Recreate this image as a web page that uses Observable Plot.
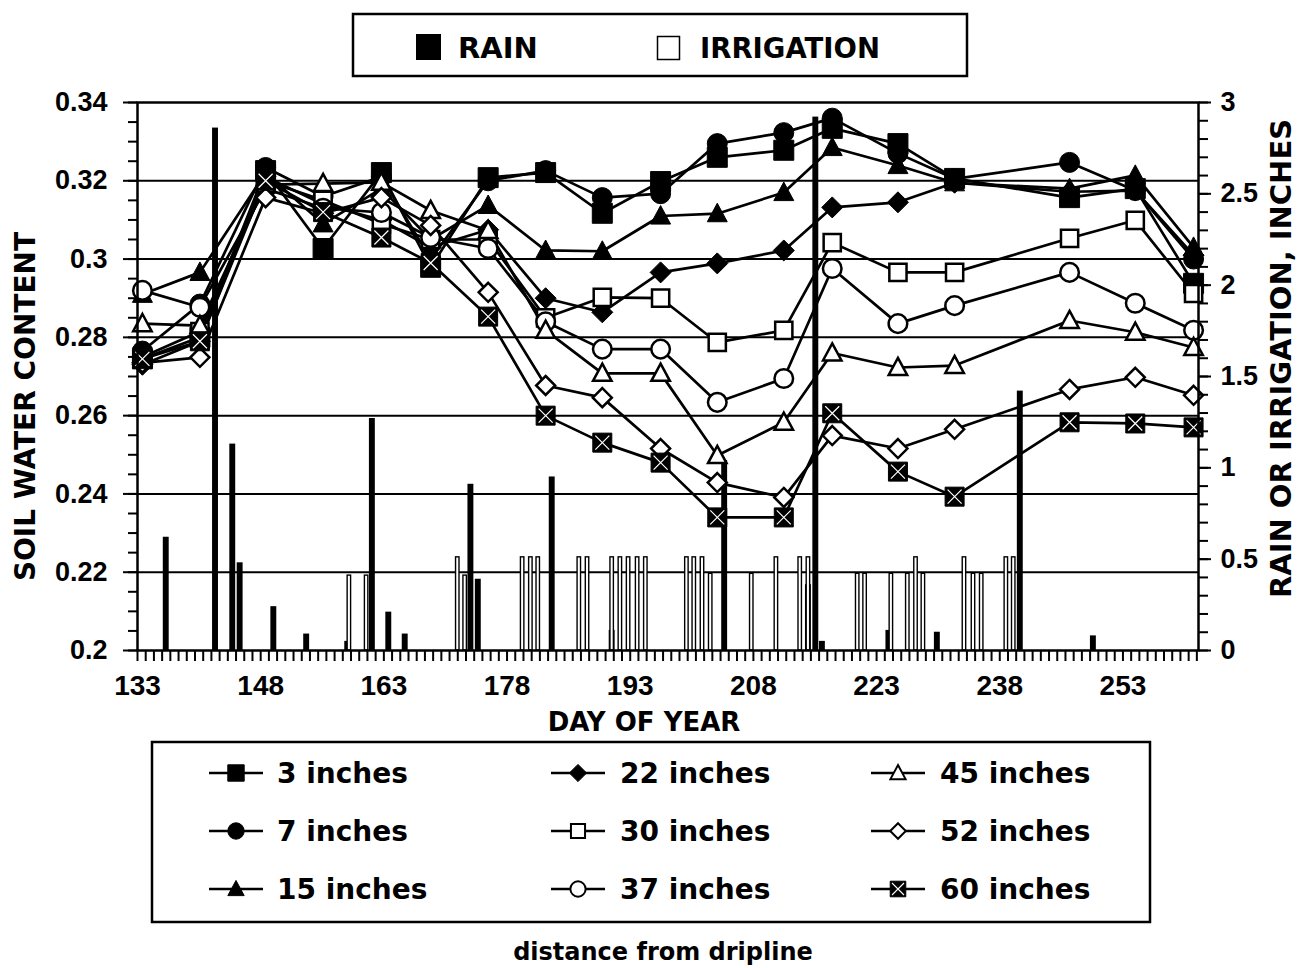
<!DOCTYPE html>
<html>
<head>
<meta charset="utf-8">
<script src="https://cdn.jsdelivr.net/npm/d3@7"></script>
<script src="https://cdn.jsdelivr.net/npm/@observablehq/plot@0.6"></script>
<style>
  html, body { margin: 0; padding: 0; background: #fff; }
  #wrap { position: relative; width: 1298px; height: 968px; background: #fff; }
  #wrap > * { position: absolute; left: 0; }
  #topLegend { top: 0; }
  #chart { top: 90px; }
  #bottomLegend { top: 740px; }
</style>
</head>
<body>
<div id="wrap">
  <div id="topLegend"></div>
  <div id="chart"></div>
  <div id="bottomLegend"></div>
</div>
<script>
// ---------------- DATA ----------------
// Measurement days (day of year, as positioned on the axis)
const days = [133.6, 140.6, 148.6, 155.6, 162.7, 168.7, 175.7, 182.7, 189.6, 196.7, 203.6, 211.7, 217.6, 225.6, 232.5, 246.5, 254.5, 261.6];

const seriesNames = ["3 inches", "7 inches", "15 inches", "22 inches", "30 inches", "37 inches", "45 inches", "52 inches", "60 inches"];

// Soil water content per depth (distance from dripline)
const in3  = [0.2745, 0.280, 0.3226, 0.3027, 0.3221, 0.2979, 0.3208, 0.3221, 0.3117, 0.3198, 0.3260, 0.3278, 0.3334, 0.3295, 0.3206, 0.3157, 0.3180, 0.2938];
const in7  = [0.2765, 0.2885, 0.3234, 0.3160, 0.3210, 0.3000, 0.3200, 0.3226, 0.3157, 0.3167, 0.3295, 0.3323, 0.3360, 0.3270, 0.3205, 0.3247, 0.3175, 0.3000];
const in15 = [0.2910, 0.2966, 0.3220, 0.3090, 0.3180, 0.3050, 0.3137, 0.3022, 0.3020, 0.3110, 0.3116, 0.3170, 0.3285, 0.3239, 0.3195, 0.3180, 0.3214, 0.3030];
const in22 = [0.2730, 0.2790, 0.3210, 0.3140, 0.3100, 0.3030, 0.3075, 0.2900, 0.2864, 0.2966, 0.2989, 0.3022, 0.3132, 0.3145, 0.3195, 0.3172, 0.3175, 0.3010];
const in30 = [0.2750, 0.2815, 0.3200, 0.3150, 0.3090, 0.3050, 0.3050, 0.2850, 0.2902, 0.2900, 0.2787, 0.2818, 0.3042, 0.2966, 0.2966, 0.3053, 0.3099, 0.2912];
const in37 = [0.2920, 0.2877, 0.3180, 0.3130, 0.3119, 0.3055, 0.3027, 0.2840, 0.2770, 0.2770, 0.2634, 0.2695, 0.2976, 0.2835, 0.2881, 0.2966, 0.2887, 0.2818];
const in45 = [0.2835, 0.2830, 0.3190, 0.3193, 0.3196, 0.3124, 0.3073, 0.2818, 0.2708, 0.2708, 0.2498, 0.2583, 0.2760, 0.2723, 0.2728, 0.2843, 0.2813, 0.2774];
const in52 = [0.2735, 0.2749, 0.3157, 0.3117, 0.3157, 0.3086, 0.2915, 0.2677, 0.2646, 0.2516, 0.2429, 0.2391, 0.2549, 0.2516, 0.2565, 0.2667, 0.2698, 0.2652];
const in60 = [0.2745, 0.2790, 0.3200, 0.3120, 0.3055, 0.2990, 0.2853, 0.2600, 0.2531, 0.2480, 0.2340, 0.2340, 0.2606, 0.2457, 0.2393, 0.2583, 0.2580, 0.2570];

// Rain events (day, inches)
const rainDays   = [136.5, 142.5, 144.6, 145.5, 149.6, 153.6, 158.6, 161.6, 163.6, 165.6, 173.6, 174.5, 183.5, 190.8, 204.5, 214.7, 215.6, 216.4, 224.5, 230.4, 240.5, 249.4];
const rainInches = [0.62, 2.86, 1.13, 0.48, 0.24, 0.09, 0.05, 1.27, 0.21, 0.09, 0.91, 0.39, 0.95, 0.11, 1.04, 0.36, 2.92, 0.05, 0.11, 0.10, 1.42, 0.08];

// Irrigation events (day, inches)
const irrDays   = [158.8, 160.9, 172.0, 172.9, 179.9, 180.9, 181.8, 186.8, 187.8, 190.8, 191.8, 192.8, 193.9, 194.9, 199.9, 200.8, 201.8, 202.8, 207.8, 210.8, 213.7, 214.7, 220.7, 221.6, 224.8, 226.8, 227.8, 228.7, 233.7, 234.8, 235.8, 238.8, 239.7];
const irrInches = [0.41, 0.41, 0.51, 0.41, 0.51, 0.51, 0.51, 0.51, 0.51, 0.51, 0.51, 0.51, 0.51, 0.51, 0.51, 0.51, 0.51, 0.42, 0.42, 0.51, 0.51, 0.51, 0.42, 0.42, 0.42, 0.42, 0.51, 0.42, 0.51, 0.42, 0.42, 0.51, 0.51];

// Axis ticks
const xLabelDays = [133, 148, 163, 178, 193, 208, 223, 238, 253];
const leftTicks  = [0.2, 0.22, 0.24, 0.26, 0.28, 0.30, 0.32, 0.34];
const gridLines  = [0.22, 0.24, 0.26, 0.28, 0.30, 0.32];
const rightTicks = [0, 0.5, 1, 1.5, 2, 2.5, 3];

// ---------------- BUILD ----------------
const seriesValues = [in3, in7, in15, in22, in30, in37, in45, in52, in60];
const long = [];
seriesNames.forEach((name, i) => days.forEach((d, j) => long.push({series: name, day: d, v: seriesValues[i][j]})));
const bySeries = name => long.filter(r => r.series === name);

const rain = rainDays.map((d, i) => ({day: d, v: rainInches[i]}));
const irr  = irrDays.map((d, i) => ({day: d, v: irrInches[i]}));

// secondary axis: inches -> soil-water units
const Y0 = 0.2, Y1 = 0.34, INMAX = 3;
const k = (Y1 - Y0) / INMAX;
const toY = v => Y0 + v * k;

// custom symbols
const mkSym = fn => ({draw(ctx, size) { fn(ctx, Math.sqrt(size / Math.PI)); }});
const SQ = mkSym((c, r) => { c.moveTo(-r, -r); c.lineTo(r, -r); c.lineTo(r, r); c.lineTo(-r, r); c.closePath(); });
const CI = mkSym((c, r) => { c.moveTo(r, 0); c.arc(0, 0, r, 0, 2 * Math.PI); c.closePath(); });
const TR = mkSym((c, r) => { c.moveTo(0, -r * 1.1); c.lineTo(r * 1.05, r * 0.85); c.lineTo(-r * 1.05, r * 0.85); c.closePath(); });
const DI = mkSym((c, r) => { c.moveTo(0, -r); c.lineTo(r, 0); c.lineTo(0, r); c.lineTo(-r, 0); c.closePath(); });
const XX = mkSym((c, r) => { c.moveTo(-r, -r); c.lineTo(r, r); c.moveTo(r, -r); c.lineTo(-r, r); });

const style = {
  "3 inches":  {sym: SQ, r: 10,  fill: "black"},
  "7 inches":  {sym: CI, r: 10,  fill: "black"},
  "15 inches": {sym: TR, r: 9.5, fill: "black"},
  "22 inches": {sym: DI, r: 10.5, fill: "black"},
  "30 inches": {sym: SQ, r: 8.6, fill: "white"},
  "37 inches": {sym: CI, r: 9.3, fill: "white"},
  "45 inches": {sym: TR, r: 8.8, fill: "white"},
  "52 inches": {sym: DI, r: 9.5, fill: "white"},
  "60 inches": {sym: SQ, r: 9.5, fill: "black", cross: true}
};

const drawOrder = ["3 inches", "7 inches", "15 inches", "22 inches", "30 inches", "37 inches", "45 inches", "52 inches", "60 inches"];
const dotMarks = [];
for (const name of drawOrder) {
  const s = style[name];
  dotMarks.push(Plot.dot(bySeries(name), {
    x: "day", y: "v", symbol: s.sym, r: s.r, fill: s.fill,
    stroke: "black", strokeWidth: s.fill === "white" ? 2.5 : 1
  }));
  if (s.cross) {
    dotMarks.push(Plot.dot(bySeries(name), {x: "day", y: "v", symbol: XX, r: 7, stroke: "white", strokeWidth: 1.2, fill: "none"}));
  }
}

const tickFont = {fontFamily: "Liberation Sans, Arial, sans-serif", fontWeight: "bold"};
const titleFont = {fontFamily: "DejaVu Sans, sans-serif", fontWeight: "bold", fill: "black"};

const chart = Plot.plot({
  width: 1298,
  height: 650,
  marginTop: 12,
  marginBottom: 90,
  marginLeft: 137,
  marginRight: 100,
  x: {domain: [133, 262.2], axis: null},
  y: {domain: [Y0, Y1], axis: null},
  style: {background: "white", color: "black", overflow: "visible"},
  marks: [
    Plot.ruleY(gridLines, {stroke: "black", strokeWidth: 2}),
    Plot.rect(rain, {x1: d => d.day - 0.36, x2: d => d.day + 0.36, y1: Y0, y2: d => toY(d.v), fill: "black"}),
    Plot.rect(irr, {x1: d => d.day - 0.21, x2: d => d.day + 0.21, y1: Y0, y2: d => toY(d.v), fill: "white", stroke: "black", strokeWidth: 1.4}),
    Plot.line(long, {x: "day", y: "v", z: "series", stroke: "black", strokeWidth: 2.7}),
    ...dotMarks,
    Plot.frame({stroke: "black", strokeWidth: 2.5}),
    // x axis: daily ticks, labels every 15 days
    Plot.axisX({ticks: d3.range(133, 263), tickSize: 11, tickPadding: 14, strokeWidth: 2, label: null,
      tickFormat: d => xLabelDays.includes(d) ? String(d) : "", fontSize: 28, ...tickFont}),
    // left axis
    Plot.axisY({ticks: d3.range(0, 29).map(i => +(Y0 + i * 0.005).toFixed(3)), tickSize: 9, strokeWidth: 2, tickFormat: () => "", label: null}),
    Plot.axisY({ticks: leftTicks, tickSize: 14, tickPadding: 16, strokeWidth: 2, label: null,
      tickFormat: v => String(+v.toFixed(2)), fontSize: 27, ...tickFont}),
    // right axis (inches)
    Plot.axisY({anchor: "right", ticks: d3.range(0, 31).map(i => toY(i / 10)), tickSize: 9, strokeWidth: 2, tickFormat: () => "", label: null}),
    Plot.axisY({anchor: "right", ticks: rightTicks.map(toY), tickSize: 12, tickPadding: 10, strokeWidth: 2, label: null,
      tickFormat: v => String(Math.round((v - Y0) / k * 10) / 10), fontSize: 27, ...tickFont}),
    // titles
    Plot.text(["SOIL WATER CONTENT"], {text: d => d, frameAnchor: "left", textAnchor: "middle", dx: -111, dy: 30, rotate: -90, fontSize: 28, lineAnchor: "middle", ...titleFont}),
    Plot.text(["RAIN OR IRRIGATION, INCHES"], {text: d => d, frameAnchor: "right", textAnchor: "middle", dx: 83, dy: -18, rotate: -90, fontSize: 29, lineAnchor: "middle", ...titleFont}),
    Plot.text(["DAY OF YEAR"], {text: d => d, frameAnchor: "bottom", dx: -24, dy: 72, fontSize: 26, lineAnchor: "middle", ...titleFont})
  ]
});
document.getElementById("chart").appendChild(chart);

// ---------------- LEGENDS ----------------
const symPath = (sym, r) => { const p = d3.path(); sym.draw(p, r * r * Math.PI); return p.toString(); };

// top legend
const topSvg = d3.select("#topLegend").append("svg").attr("width", 1298).attr("height", 90);
topSvg.append("rect").attr("x", 353).attr("y", 14).attr("width", 614).attr("height", 62)
  .attr("fill", "white").attr("stroke", "black").attr("stroke-width", 2.5);
topSvg.append("rect").attr("x", 416).attr("y", 34).attr("width", 25).attr("height", 26).attr("fill", "black");
topSvg.append("text").attr("x", 458).attr("y", 58).text("RAIN")
  .attr("font-family", "DejaVu Sans").attr("font-weight", "bold").attr("font-size", 29);
topSvg.append("rect").attr("x", 657.5).attr("y", 36.5).attr("width", 22).attr("height", 23)
  .attr("fill", "white").attr("stroke", "black").attr("stroke-width", 1.5);
topSvg.append("text").attr("x", 700).attr("y", 58).text("IRRIGATION")
  .attr("font-family", "DejaVu Sans").attr("font-weight", "bold").attr("font-size", 27.5);

// bottom legend
const botSvg = d3.select("#bottomLegend").append("svg").attr("width", 1298).attr("height", 228);
botSvg.append("rect").attr("x", 152).attr("y", 2).attr("width", 998).attr("height", 180)
  .attr("fill", "white").attr("stroke", "black").attr("stroke-width", 2.5);
const cols = [236, 578, 898];
const textX = [277, 620, 940];
const rows = [33, 91, 149];
const legendOrder = [["3 inches", "7 inches", "15 inches"], ["22 inches", "30 inches", "37 inches"], ["45 inches", "52 inches", "60 inches"]];
legendOrder.forEach((col, ci) => col.forEach((name, ri) => {
  const s = style[name];
  const cx = cols[ci], cy = rows[ri];
  const g = botSvg.append("g");
  g.append("line").attr("x1", cx - 27).attr("x2", cx + 27).attr("y1", cy).attr("y2", cy)
    .attr("stroke", "black").attr("stroke-width", 2.5);
  g.append("path").attr("transform", `translate(${cx},${cy})`).attr("d", symPath(s.sym, s.r * 0.82))
    .attr("fill", s.fill).attr("stroke", "black").attr("stroke-width", s.fill === "white" ? 2 : 1);
  if (s.cross) {
    g.append("path").attr("transform", `translate(${cx},${cy})`).attr("d", symPath(XX, 6))
      .attr("fill", "none").attr("stroke", "white").attr("stroke-width", 1.1);
  }
  g.append("text").attr("x", textX[ci]).attr("y", cy + 10).text(name)
    .attr("font-family", "DejaVu Sans").attr("font-weight", "bold").attr("font-size", 28);
}));
botSvg.append("text").attr("x", 663).attr("y", 220).attr("text-anchor", "middle").text("distance from dripline")
  .attr("font-family", "DejaVu Sans").attr("font-weight", "bold").attr("font-size", 24);
</script>
</body>
</html>
